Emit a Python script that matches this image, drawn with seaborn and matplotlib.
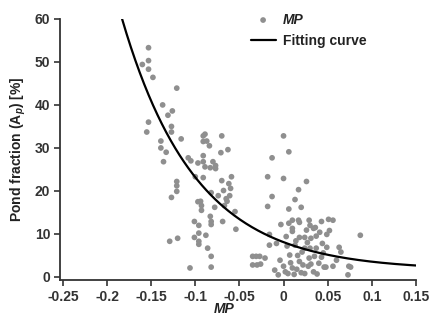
import numpy as np
import pandas as pd
import matplotlib
matplotlib.use("Agg")
import matplotlib.pyplot as plt
import seaborn as sns

# ---------------- data ----------------
mp_x = [
    -0.153, -0.160, -0.153, -0.153, -0.148, -0.121, -0.137, -0.126, -0.131, -0.153,
    -0.155, -0.127, -0.127, -0.116, -0.139, -0.139, -0.133, -0.136, -0.121, -0.121,
    -0.121, -0.127, -0.120, -0.129, -0.106,
    -0.091, -0.089, -0.087, -0.070, -0.084, -0.071, -0.063, -0.108, -0.105, -0.097,
    -0.091, -0.089, -0.091, -0.080, -0.077, -0.083, -0.077, -0.100, -0.091, -0.070,
    -0.059, -0.062, -0.060, -0.068, -0.082, -0.074, -0.061, -0.065, -0.064, -0.067,
    -0.094, -0.093, -0.097, -0.093, -0.083, -0.078, -0.082, -0.082, -0.069, -0.055,
    -0.054, -0.101, -0.096, -0.096, -0.088, -0.101, -0.096, -0.096, -0.086, -0.082,
    -0.082, -0.091,
    -0.013, 0.000, 0.006, -0.018, 0.000, 0.026, 0.017, -0.013, 0.013, 0.006,
    0.020, -0.018,
    -0.016, -0.016, -0.035, -0.031, -0.027, -0.035, -0.030, -0.026, -0.021, -0.010,
    -0.006, -0.004, -0.003, -0.008,
    0.006, 0.010, 0.017, 0.029, 0.043, 0.051, 0.056, 0.018, 0.030, 0.036,
    0.010, 0.026, 0.034, 0.010, 0.037, 0.049, 0.087, 0.018, 0.024, 0.031,
    0.004, 0.013, 0.024, 0.030, 0.037, 0.049, 0.063, 0.065, 0.007, 0.016,
    0.029, 0.035, 0.060, 0.056, 0.046, 0.048, 0.074, 0.073, 0.076,
    0.010, 0.015, 0.022, 0.028, 0.005, 0.012, 0.024, 0.034, 0.040, 0.002,
    0.018, 0.031, 0.000, 0.008, 0.020, 0.038, 0.043, 0.014, 0.003, 0.044,
    0.027, 0.021, 0.041, 0.052, 0.045,
]
pond_y = [
    53.3, 49.4, 50.3, 48.3, 46.4, 43.9, 40.0, 38.6, 37.6, 36.0,
    33.7, 35.0, 33.7, 32.1, 31.6, 30.0, 29.0, 26.8, 22.2, 21.2,
    19.9, 18.5, 9.0, 8.3, 2.1,
    32.8, 33.2, 31.6, 32.8, 30.5, 28.9, 29.6, 27.7, 27.0, 26.5,
    26.8, 25.6, 28.2, 26.8, 25.9, 25.4, 25.2, 23.3, 23.1, 22.4,
    23.3, 21.7, 20.6, 20.1, 19.6, 18.9, 18.9, 18.2, 17.6, 16.6,
    17.6, 16.6, 17.5, 15.5, 14.1, 16.2, 12.9, 12.2, 12.9, 15.2,
    11.1, 12.9, 12.0, 10.2, 9.7, 9.2, 8.3, 7.6, 6.7, 4.8,
    2.3, 31.5,
    27.7, 32.8, 29.1, 23.3, 22.9, 22.2, 20.3, 18.7, 18.0, 15.8,
    16.2, 16.4,
    9.9, 7.4, 4.8, 4.8, 4.8, 2.8, 2.8, 3.0, 4.4, 1.6,
    0.5, 3.9, 12.2, 7.8,
    12.5, 13.2, 13.2, 13.2, 12.9, 13.4, 13.2, 12.7, 12.0, 11.5,
    11.3, 10.9, 11.3, 10.6, 9.5, 9.9, 9.7, 9.2, 9.2, 9.0,
    7.2, 7.4, 6.7, 6.7, 6.7, 6.9, 6.9, 5.8, 5.1, 5.0,
    4.4, 4.8, 3.9, 2.5, 2.3, 2.3, 2.5, 0.5, 2.3,
    2.1, 1.8, 2.8, 2.5, 0.8, 0.6, 0.8, 1.2, 3.2, 1.2,
    3.6, 3.0, 2.5, 3.3, 1.0, 0.7, 4.6, 8.4, 9.4, 7.8,
    8.0, 5.8, 10.4, 10.8, 5.6,
]

# fitting curve  y = a * exp(b * x) + c  (parameters)
fit_a, fit_b, fit_c = 6.5, -12.0, 1.6
fit_x_start, fit_x_end = -0.183, 0.15

x_ticks = [-0.25, -0.2, -0.15, -0.1, -0.05, 0, 0.05, 0.1, 0.15]
x_tick_labels = ["-0.25", "-0.2", "-0.15", "-0.1", "-0.05", "0", "0.05", "0.1", "0.15"]
y_ticks = [0, 10, 20, 30, 40, 50, 60]

df = pd.DataFrame({"MP": mp_x, "Ap": pond_y})
fit_x = np.linspace(fit_x_start, fit_x_end, 200)
fit_df = pd.DataFrame({"MP": fit_x, "Ap": fit_a * np.exp(fit_b * fit_x) + fit_c})

# ---------------- plot ----------------
sns.set_style("ticks")
plt.rcParams["font.family"] = ["Liberation Sans", "DejaVu Sans"]
plt.rcParams["mathtext.fontset"] = "custom"
plt.rcParams["mathtext.rm"] = "Liberation Sans:bold"
plt.rcParams["mathtext.it"] = "Liberation Sans:italic:bold"

fig = plt.figure(figsize=(4.31, 3.2), dpi=100)
ax = fig.add_axes([0.139, 0.125, 0.826, 0.816])

sns.scatterplot(data=df, x="MP", y="Ap", ax=ax, color="#8f8f8f", s=17,
                edgecolor="none", label="MP", zorder=2)
sns.lineplot(data=fit_df, x="MP", y="Ap", ax=ax, color="black", linewidth=1.6,
             label="Fitting curve", zorder=3)

ax.set_xlim(-0.2534, 0.15)
ax.set_ylim(-0.7, 60)
ax.set_xticks(x_ticks)
ax.set_xticklabels(x_tick_labels)
ax.set_yticks(y_ticks)
for lab in ax.get_xticklabels() + ax.get_yticklabels():
    lab.set_fontweight("bold")
    lab.set_fontsize(10)
    lab.set_color("#222222")

ax.tick_params(direction="out", length=4, width=1.2, colors="#333333", pad=3)
sns.despine(ax=ax)
for side in ["left", "bottom"]:
    ax.spines[side].set_linewidth(1.3)
    ax.spines[side].set_color("#333333")

ax.set_xlabel("MP", fontsize=10, fontweight="bold", style="italic", color="#222222")
ax.xaxis.set_label_coords(0.5 - 0.04, -0.085)
ax.set_ylabel(r"Pond fraction (A$_{\mathit{p}}$) [%]", fontsize=10,
              fontweight="bold", color="#222222")
ax.yaxis.set_label_coords(-0.09, 0.5)

leg = ax.legend(frameon=False, loc="upper left", bbox_to_anchor=(0.52, 1.045),
                fontsize=10, handlelength=1.8, handletextpad=0.5,
                labelspacing=0.55, borderaxespad=0)
texts = leg.get_texts()
for t in texts:
    t.set_fontweight("bold")
    t.set_color("#222222")
texts[0].set_fontstyle("italic")

plt.savefig("out.png", dpi=100)
